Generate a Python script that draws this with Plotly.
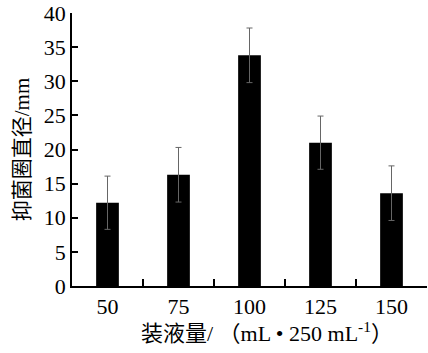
import plotly.graph_objects as go

categories = ["50", "75", "100", "125", "150"]
values = [12.2, 16.3, 33.8, 21.0, 13.6]
errors = [3.9, 4.0, 4.0, 3.9, 4.0]
y_ticks = [0, 5, 10, 15, 20, 25, 30, 35, 40]

font_family = "Liberation Serif, Times New Roman, Noto Sans CJK SC, serif"

fig = go.Figure()
fig.add_trace(go.Bar(
    x=categories, y=values,
    marker=dict(color="black", line=dict(width=0)),
    width=0.32,
    error_y=dict(type="data", array=errors, visible=True,
                 color="#666666", thickness=1, width=3),
))

fig.add_annotation(
    text="装液量/ （mL • 250 mL<sup>-1</sup>）",
    xref="paper", yref="paper", x=0.549, y=-0.17,
    xanchor="center", yanchor="middle", showarrow=False,
    font=dict(size=22, family=font_family, color="black"),
)

fig.update_layout(
    width=428, height=353,
    margin=dict(l=72, r=1, t=10, b=67),
    paper_bgcolor="white", plot_bgcolor="white",
    showlegend=False,
    font=dict(family=font_family, size=22, color="black"),
    xaxis=dict(
        type="category",
        showline=True, linecolor="black", linewidth=1.5,
        ticks="inside", tickson="boundaries", ticklen=7, tickcolor="black", tickwidth=1.5,
        tickfont=dict(size=22, family=font_family),
        showgrid=False, zeroline=False,
    ),
    yaxis=dict(
        range=[0, 40], tickvals=y_ticks,
        showline=True, linecolor="black", linewidth=1.5,
        ticks="inside", ticklen=6, tickcolor="black", tickwidth=1.5,
        tickfont=dict(size=22, family=font_family),
        ticklabeloverflow="allow",
        showgrid=False, zeroline=False,
        title=dict(text="抑菌圈直径/mm", standoff=8,
                   font=dict(size=21, family=font_family)),
    ),
)

fig.write_html("out.html")
